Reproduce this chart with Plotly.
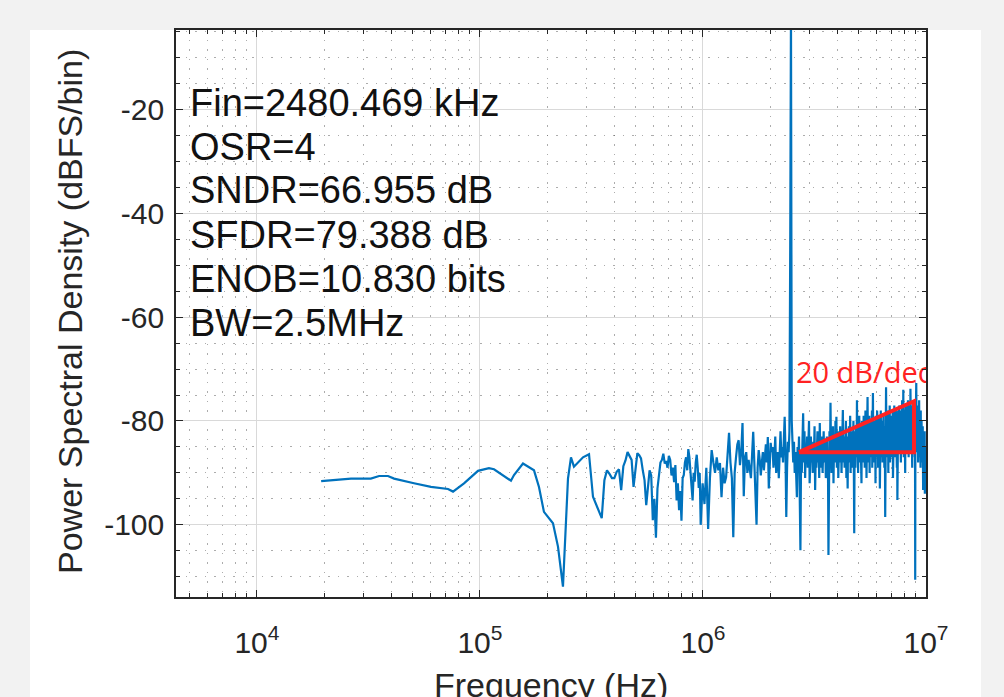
import plotly.graph_objects as go

# ---------------- data ----------------
# smooth low-frequency part (kHz, dBFS/bin)
smooth_f_khz = [19.4, 22.6, 26.4, 32.4, 35.3, 38.7, 41.2, 50.6, 60.3, 71.9,
                75.7, 84.8, 98.0, 109.7, 115.6, 137.7, 142.1, 155.9, 174.7, 183.9,
                193.6, 212.5, 223.8, 235.6, 243.0, 248.1, 255.9, 263.9, 289.7, 308.3,
                321.2]
smooth_db = [-91.6, -91.3, -91.1, -91.1, -90.6, -90.6, -91.1, -92.0, -92.7, -93.1,
             -93.6, -92.0, -89.6, -89.1, -89.3, -91.5, -90.4, -88.2, -89.5, -92.7,
             -97.5, -99.7, -104.2, -111.9, -99.7, -91.1, -87.0, -88.8, -87.0, -86.4,
             -94.6]

# fine FFT bins (bin width 9.765625 kHz), bins 36..100
fine_bin_khz = 9.765625
fine_bins = list(range(36, 101))
fine_db = [
    -98.7, -91.4, -89.5, -90.2, -91.0, -91.0, -89.8, -89.3, -93.3, -88.7,
    -87.6, -86.0, -86.8, -87.5, -92.7, -89.0, -86.2, -86.6, -87.2, -89.5,
    -91.4, -96.2, -93.0, -89.5, -90.5, -99.1, -95.0, -102.5, -93.0, -90.0,
    -88.0, -87.5, -86.3, -88.2, -87.7, -89.0, -86.7, -87.5, -90.5, -89.0,
    -91.8, -88.5, -95.3, -92.0, -97.2, -93.5, -99.2, -91.0, -90.4, -88.0,
    -87.0, -89.5, -85.4, -87.0, -89.4, -93.0, -95.3, -90.0, -91.7, -88.0,
    -86.5, -89.0, -92.9, -90.0, -100.0]

# coarse FFT bins (bin width 19.53125 kHz), bins 51..512
coarse_bin_khz = 19.53125
coarse_bins = list(range(51, 513))
coarse_db = [
    -92, -96, -89, -100.8, -91, -85.6, -88, -90, -87, -89.5,
    -88.1, -94.7, -89, -92, -90.8, -86, -82.3, -88, -91, -102.4,
    -90, -87, -84.5, -83.7, -88.5, -86, -80.4, -94.5, -87, -86,
    -90, -87.5, -89.5, -91, -86.5, -82.1, -88, -95, -100, -89,
    -85.6, -87.5, -90.5, -88, -86, -89.5, -86.5, -84.5, -88, -83.1,
    -93, -88, -84.2, -86, -85, -89, -87, -83, -90, -88,
    -86, -91, -84, -82, -87, -85, -88, -84, -79.2, -86,
    -98.5, -89, -84, -86, -82, -47, -1, -80, -85.6, -88,
    -84, -90, -86, -92, -94.7, -85, -88, -83, -96, -104.9,
    -86, -90, -84, -78.5, -88, -82, -91, -85, -87, -83,
    -89, -84, -80, -92, -86, -83, -88, -85, -90, -84,
    -87, -81, -93.3, -86, -89, -84, -82, -88, -85, -91,
    -80.4, -87, -84, -89, -83, -90, -86, -82, -88, -85,
    -84, -91, -86, -83, -89, -87, -105.8, -85, -82, -88,
    -76.5, -86, -90, -83, -87, -81, -92, -85, -84, -88,
    -80, -86, -79.2, -89, -84, -82, -91, -85, -83, -88,
    -81, -87, -84, -90, -82, -86, -77.9, -88, -83, -85,
    -89, -82, -86, -80, -91, -84, -87, -93, -83, -85,
    -81, -88, -84, -79, -90, -85, -82, -87, -83, -89,
    -86, -80, -88, -101.6, -84, -82, -89, -85, -81, -87,
    -76, -85, -83, -90, -82, -86, -79, -88, -84, -81,
    -87, -83, -92, -80, -85, -82, -88, -84, -79, -86,
    -81, -89, -84, -78, -86, -83, -91, -80, -85, -75.4,
    -84, -88, -81, -86, -79, -90, -83, -85, -80, -87,
    -82, -86, -78, -89, -84, -74.6, -85, -81, -88, -83,
    -80, -86, -82, -92, -79, -85, -83, -87, -78, -84,
    -81, -89, -83, -86, -79, -85, -82, -93, -80, -86,
    -78, -84, -81, -87, -83, -80, -88, -82, -85, -79,
    -86, -83, -89, -81, -84, -98.5, -80, -85, -73.5, -83,
    -87, -80, -84, -78, -86, -82, -90, -79, -85, -81,
    -84, -77, -88, -82, -85, -80, -87, -83, -79, -86,
    -81, -84, -78, -91, -82, -85, -80, -86, -77, -83,
    -80, -87, -82, -84, -78, -86, -81, -83, -89, -79,
    -95.2, -82, -85, -78, -84, -80, -86, -77, -83, -81,
    -85, -79, -84, -82, -88, -78, -83, -80, -86, -76,
    -82, -85, -79, -84, -74, -81, -87, -80, -83, -78,
    -85, -81, -90, -79, -84, -77, -82, -86, -80, -83,
    -78, -85, -81, -84, -76, -83, -80, -87, -79, -82,
    -84, -77, -83, -80, -86, -73.8, -82, -79, -85, -81,
    -78, -84, -80, -89, -82, -77, -85, -80, -83, -79,
    -82, -86, -78, -84, -81, -87, -80, -110.6, -77, -83,
    -79, -84, -72.7, -81, -86, -78, -83, -80, -85, -77,
    -82, -88, -79, -84, -80, -86, -76, -83, -81, -87,
    -79, -84, -82, -89, -78, -85, -81, -83, -80, -86,
    -82, -88, -84, -90, -81, -86, -93.3, -83, -87, -85,
    -89, -84, -91, -86, -82, -94, -88, -85, -90, -87,
    -92, -86]

# 20 dB/dec guide triangle (Hz, dB)
tri_f = [2.695e6, 8.836e6, 8.836e6, 2.695e6]
tri_db = [-86.0, -76.2, -86.0, -86.0]
slope_label = "20 dB/dec"
slope_label_f = [2.61e6]
slope_label_db = [-71.3]

info_lines = ["Fin=2480.469 kHz", "OSR=4", "SNDR=66.955 dB",
              "SFDR=79.388 dB", "ENOB=10.830 bits", "BW=2.5MHz"]

x_tickvals = [1e4, 1e5, 1e6, 1e7]
x_ticktext = ["10<sup>4</sup>", "10<sup>5</sup>", "10<sup>6</sup>", "10<sup>7</sup>"]
y_tickvals = [-100, -80, -60, -40, -20]
y_ticktext = ["-100", "-80", "-60", "-40", "-20"]
x_minor = [m * 10 ** d for d in range(3, 7) for m in range(2, 10)]

# ---------------- assemble series ----------------
freq_hz = [f * 1e3 for f in smooth_f_khz]
freq_hz += [b * fine_bin_khz * 1e3 for b in fine_bins]
freq_hz += [b * coarse_bin_khz * 1e3 for b in coarse_bins]
psd_db = smooth_db + fine_db + coarse_db
assert len(freq_hz) == len(psd_db)

# ---------------- layout geometry ----------------
W, H = 1004, 697
L, R, T, B = 176, 78, 30, 100
PW, PH = W - L - R, H - T - B


def px(xpix):
    return (xpix - L) / PW


def py(ypix):
    return (H - B - ypix) / PH


FONT = "Liberation Sans, Arial, sans-serif"
AX = "#262626"
BLUE = "#0072BD"
RED = "#ff2222"

fig = go.Figure()
fig.add_trace(go.Scatter(x=freq_hz, y=psd_db, mode="lines",
                         line=dict(color=BLUE, width=2.2), hoverinfo="skip"))
fig.add_trace(go.Scatter(x=tri_f, y=tri_db, mode="lines",
                         line=dict(color=RED, width=4)))
fig.add_trace(go.Scatter(x=slope_label_f, y=slope_label_db, mode="text",
                         text=[slope_label], textposition="middle right",
                         textfont=dict(family="Open Sans, sans-serif", size=29, color=RED),
                         cliponaxis=True))

minor_grid = dict(showgrid=True, gridcolor="rgba(70,70,70,0.45)", gridwidth=1.2,
                  griddash="1.5px,8px", ticks="inside", ticklen=4, tickcolor=AX)

fig.update_xaxes(type="log", range=[3.637, 7.0], tickvals=x_tickvals, ticktext=x_ticktext,
                 ticks="inside", ticklen=7, tickwidth=1.2, tickcolor=AX,
                 showline=True, linecolor=AX, linewidth=1.6, mirror="ticks",
                 showgrid=True, gridcolor="#d9d9d9", gridwidth=1.2, zeroline=False,
                 tickfont=dict(family=FONT, size=30, color=AX), ticklabelstandoff=18,
                 minor=dict(tickmode="array", tickvals=x_minor, **minor_grid))
fig.update_yaxes(range=[-113.9, -4.7], tickvals=y_tickvals, ticktext=y_ticktext,
                 ticks="inside", ticklen=7, tickwidth=1.2, tickcolor=AX,
                 showline=True, linecolor=AX, linewidth=1.6, mirror="ticks",
                 showgrid=True, gridcolor="#d9d9d9", gridwidth=1.2, zeroline=False,
                 tickfont=dict(family=FONT, size=30, color=AX), ticklabelstandoff=4,
                 minor=dict(dtick=5, tick0=0, **minor_grid))

annotations = []
cap_tops = [88, 131.5, 175, 219.5, 264, 308]
for line, top in zip(info_lines, cap_tops):
    annotations.append(dict(text=line, xref="paper", yref="paper", x=px(188), y=py(top - 8),
                            xanchor="left", yanchor="top", showarrow=False,
                            font=dict(family=FONT, size=38, color="#111111")))
annotations.append(dict(text="Power Spectral Density (dBFS/bin)", xref="paper", yref="paper",
                        x=px(70), y=py(312), xanchor="center", yanchor="middle",
                        textangle=-90, showarrow=False,
                        font=dict(family=FONT, size=34, color=AX)))
annotations.append(dict(text="Frequency (Hz)", xref="paper", yref="paper",
                        x=px(551), y=py(664), xanchor="center", yanchor="top",
                        showarrow=False, font=dict(family=FONT, size=34, color=AX)))

fig.update_layout(
    width=W, height=H, margin=dict(l=L, r=R, t=T, b=B, autoexpand=False),
    paper_bgcolor="#f2f2f2", plot_bgcolor="white", showlegend=False,
    annotations=annotations,
    shapes=[dict(type="rect", xref="paper", yref="paper", x0=px(30), x1=px(981),
                 y0=py(H + 5), y1=py(30), fillcolor="white", line=dict(width=0),
                 layer="below")],
)

fig.write_html(
    "out.html",
    config={"displayModeBar": False},
    post_script="document.body.style.margin='0';document.body.style.padding='0';"
                "document.body.style.background='#f2f2f2';"
                "document.body.style.overflow='hidden';",
)
